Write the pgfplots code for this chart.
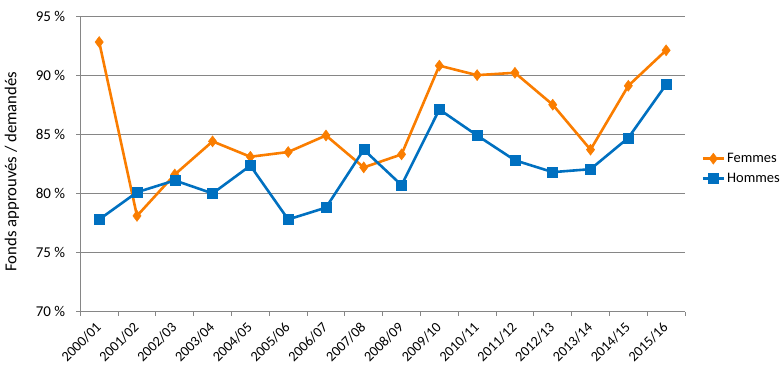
\documentclass[border=0pt]{standalone}
\usepackage{fontspec}
\setmainfont{Carlito}
\usepackage{pgfplots}
\pgfplotsset{compat=1.18}
\definecolor{femc}{RGB}{250,125,0}
\definecolor{homc}{RGB}{0,112,192}
\definecolor{gridc}{RGB}{134,134,134}
\begin{document}
\begin{tikzpicture}
\useasboundingbox (0,0) rectangle (783pt,384pt);
\begin{axis}[
  scale only axis,
  width=604.7pt, height=295.7pt,
  at={(80.3pt,72.3pt)}, anchor=south west,
  xmin=-0.5, xmax=15.5, ymin=70, ymax=95,
  axis lines*=left,
  axis line style={gridc, line width=0.8pt},
  tick align=outside,
  major tick length=4pt,
  tick style={gridc, line width=0.8pt},
  xtick={-0.5,0.5,...,15.5},
  xticklabels={2000/01,2001/02,2002/03,2003/04,2004/05,2005/06,2006/07,2007/08,2008/09,2009/10,2010/11,2011/12,2012/13,2013/14,2014/15,2015/16,{}},
  xticklabel style={rotate=45, anchor=north east, inner sep=0pt, xshift=6.5pt, yshift=-14pt, font=\fontsize{14.3}{16}\selectfont},
  ytick={70,75,80,85,90,95},
  yticklabels={70 \%,75 \%,80 \%,85 \%,90 \%,95 \%},
  yticklabel style={anchor=east, inner sep=0pt, xshift=-11pt, font=\fontsize{15}{17}\selectfont},
  ymajorgrids,
  grid style={gridc, line width=0.8pt},
  ylabel={Fonds approuvés / demandés},
  ylabel style={font=\fontsize{16.7}{19}\selectfont},
  every axis y label/.append style={at={(-68.3pt,0.474*295.7pt)}, anchor=center, rotate=0},
  legend style={at={(1.027,0.484)}, anchor=west, draw=none, fill=none,
    font=\fontsize{14.5}{17}\selectfont, row sep=5pt, inner sep=0pt,
    nodes={inner sep=2pt}},
  legend cell align=left,
  legend image code/.code={\draw[mark repeat=2,mark phase=2] plot coordinates {(0pt,0pt) (10.5pt,0pt) (21pt,0pt)};},
  clip=false,
]
\addplot[femc, line width=2.6pt, mark=diamond*, mark size=5.5pt, mark options={solid, line width=0.5pt}] coordinates {
(0,92.8) (1,78.1) (2,81.6) (3,84.4) (4,83.1) (5,83.5) (6,84.9) (7,82.2)
(8,83.3) (9,90.8) (10,90.0) (11,90.2) (12,87.5) (13,83.7) (14,89.1) (15,92.1)};
\addlegendentry{Femmes}
\addplot[homc, line width=2.6pt, mark=square*, mark size=5pt, mark options={solid, line width=0.5pt}] coordinates {
(0,77.8) (1,80.1) (2,81.1) (3,80.0) (4,82.35) (5,77.8) (6,78.8) (7,83.7)
(8,80.7) (9,87.1) (10,84.9) (11,82.8) (12,81.8) (13,82.05) (14,84.7) (15,89.2)};
\addlegendentry{Hommes}
\end{axis}
\end{tikzpicture}
\end{document}
